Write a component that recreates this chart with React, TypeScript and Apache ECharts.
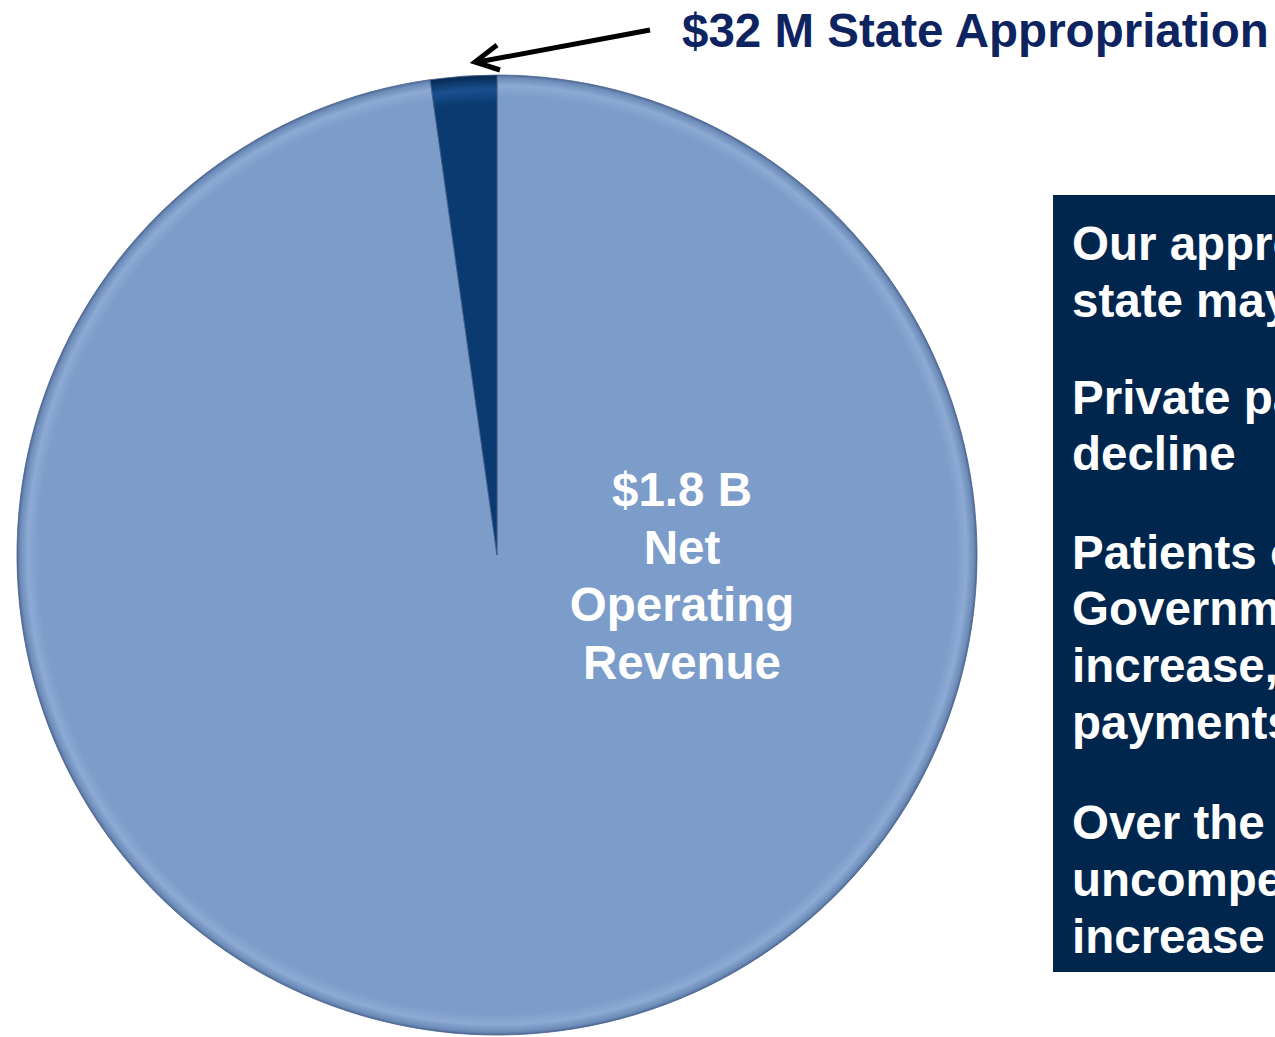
import React, { useEffect, useRef } from "react";
import * as echarts from "echarts";

const sliceNames = ["Net Operating Revenue", "State Appropriation"];
const sliceValues = [1800, 32]; // $ millions
const sliceLabel = ["$1.8 B", "Net", "Operating", "Revenue"];
const calloutText = "$32 M State Appropriation";
const boxLines = [
  "Our appropriation from the",
  "state may",
  "Private payer",
  "decline",
  "Patients on",
  "Government",
  "increase,",
  "payments",
  "Over the",
  "uncompensated",
  "increase",
];
const boxLineY = [243, 300, 397, 453, 552, 608, 665, 722, 822, 879, 936];

const FONT = "'Liberation Sans', Arial, Helvetica, sans-serif";

export default function App() {
  const ref = useRef<HTMLDivElement>(null);
  useEffect(() => {
    if (!ref.current) return;
    const chart = echarts.init(ref.current, undefined, { renderer: "svg" });
    const cx = 497;
    const cy = 555;
    const r = 480;
    const bigFill = new echarts.graphic.RadialGradient(
      cx,
      cy,
      r,
      [
        { offset: 0, color: "#7C9CC9" },
        { offset: 0.955, color: "#7C9CC9" },
        { offset: 0.978, color: "#8CAAD4" },
        { offset: 0.994, color: "#6C8BB8" },
        { offset: 1, color: "#4E6A93" },
      ],
      true
    );
    const smallFill = new echarts.graphic.RadialGradient(
      cx,
      cy,
      r,
      [
        { offset: 0, color: "#0A3A70" },
        { offset: 0.94, color: "#0A3A70" },
        { offset: 0.97, color: "#1A5090" },
        { offset: 1, color: "#05284F" },
      ],
      true
    );
    const fills = [bigFill, smallFill];

    const graphics: any[] = [
      {
        type: "text",
        left: 682,
        top: 6,
        z: 100,
        style: {
          text: calloutText,
          font: `bold 47.5px ${FONT}`,
          fill: "#0E2461",
        },
      },
      {
        type: "line",
        z: 100,
        shape: { x1: 650, y1: 30, x2: 478, y2: 62 },
        style: { stroke: "#000", lineWidth: 5 },
      },
      {
        type: "polyline",
        z: 100,
        shape: {
          points: [
            [497, 45],
            [475, 62],
            [500, 70],
          ],
        },
        style: { stroke: "#000", lineWidth: 5, fill: null, lineJoin: "miter" },
      },
      {
        type: "rect",
        z: 100,
        shape: { x: 1053, y: 195, width: 240, height: 777 },
        style: { fill: "#00264E" },
      },
      {
        type: "text",
        x: 682,
        y: 576,
        z: 100,
        style: {
          text: sliceLabel.join("\n"),
          font: `bold 47.5px ${FONT}`,
          fill: "#FFFFFF",
          align: "center",
          verticalAlign: "middle",
          lineHeight: 57.5,
        },
      },
    ];
    boxLines.forEach((t, i) => {
      graphics.push({
        type: "text",
        x: 1072,
        y: boxLineY[i],
        z: 101,
        style: {
          text: t,
          font: `bold 47.5px ${FONT}`,
          fill: "#FFFFFF",
          align: "left",
          verticalAlign: "middle",
        },
      });
    });

    chart.setOption({
      animation: false,
      backgroundColor: "#FFFFFF",
      series: [
        {
          type: "pie",
          center: [cx, cy],
          radius: r,
          startAngle: 90,
          clockwise: true,
          minAngle: 8,
          silent: true,
          label: { show: false },
          labelLine: { show: false },
          emphasis: { disabled: true },
          itemStyle: { borderColor: "rgba(70,95,140,0.8)", borderWidth: 1 },
          data: sliceNames.map((n, i) => ({
            name: n,
            value: sliceValues[i],
            itemStyle: { color: fills[i] },
          })),
        },
      ],
      graphic: graphics,
    });
    return () => chart.dispose();
  }, []);
  return (
    <div
      ref={ref}
      style={{ position: "fixed", left: 0, top: 0, width: 1275, height: 1037 }}
    />
  );
}
